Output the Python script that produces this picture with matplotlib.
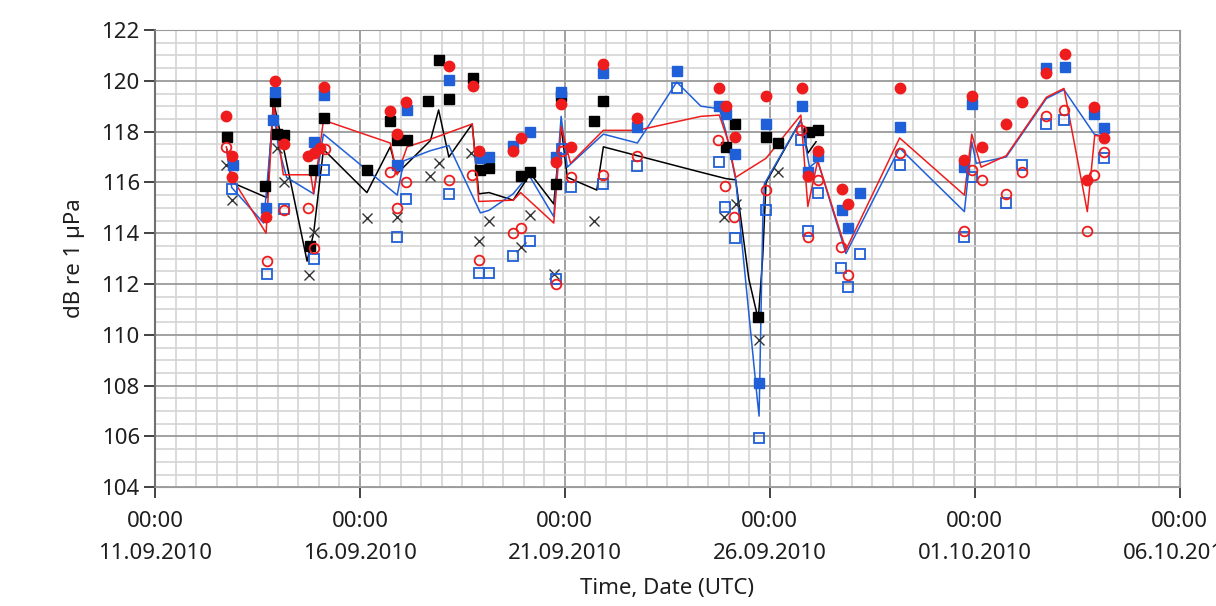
"""
Hydrophone sound level time series, 11.09.2010 - 06.10.2010 (LabVIEW style).
"""

from datetime import datetime

import matplotlib
matplotlib.use("Agg")
import matplotlib.dates as mdates
import matplotlib.pyplot as plt
import numpy as np
from matplotlib.ticker import FixedLocator, MultipleLocator

# ── Data (x = days after 11.09.2010 00:00 UTC, y = dB re 1 µPa) ──────────────

black_sq_t = [1.75, 2.69, 2.92, 2.97, 3.14, 3.77, 3.87, 4.13, 5.17, 5.74, 5.91,
              6.15, 6.66, 6.92, 7.17, 7.75, 7.94, 8.15, 8.92, 9.16, 9.78, 9.91,
              10.71, 10.92, 13.93, 14.16, 14.72, 14.91, 15.19, 15.97, 16.17]
black_sq_v = [117.8, 115.85, 119.2, 117.9, 117.85, 113.5, 116.5, 118.55, 116.5,
              118.4, 117.65, 117.65, 119.2, 120.8, 119.3, 120.1, 116.5, 116.55,
              116.25, 116.4, 115.95, 119.4, 118.4, 119.2, 117.4, 118.3, 110.7,
              117.8, 117.55, 118.0, 118.05]

black_x_t = [1.73, 1.87, 2.97, 3.14, 3.75, 3.87, 5.17, 5.91, 6.72, 6.92, 7.70,
             7.90, 8.15, 8.92, 9.16, 9.73, 10.71, 13.89, 14.17, 14.74, 15.19]
black_x_v = [116.7, 115.3, 117.35, 116.0, 112.35, 114.05, 114.6, 114.65, 116.25,
             116.75, 117.15, 113.7, 114.5, 113.45, 114.7, 112.4, 114.5, 114.65,
             115.15, 109.8, 116.4]

blue_sq_t = [1.91, 2.71, 2.89, 2.92, 3.89, 4.13, 5.91, 6.15, 7.17, 7.94, 8.15,
             8.74, 9.16, 9.78, 9.91, 10.92, 11.77, 12.73, 13.77, 13.93, 14.16,
             14.74, 14.91, 15.79, 15.93, 16.17, 16.76, 16.90, 17.20, 18.17,
             19.75, 19.93, 21.75, 22.20, 22.92, 23.16]
blue_sq_v = [116.7, 115.0, 118.45, 119.55, 117.6, 119.45, 116.7, 118.85, 120.05,
             116.95, 117.0, 117.45, 118.0, 117.0, 119.55, 120.3, 118.2, 120.4,
             119.0, 118.7, 117.1, 108.1, 118.3, 119.0, 116.4, 117.05, 114.9,
             114.2, 115.6, 118.2, 116.6, 119.1, 120.5, 120.55, 118.7, 118.15]

blue_os_t = [1.87, 2.73, 3.14, 3.89, 4.13, 5.91, 6.13, 7.17, 7.90, 8.15, 8.74,
             9.16, 9.78, 9.94, 10.14, 10.92, 11.77, 12.73, 13.77, 13.91, 14.16,
             14.74, 14.91, 15.76, 15.93, 16.17, 16.74, 16.90, 17.20, 18.17,
             19.75, 19.93, 20.77, 21.16, 21.75, 22.18, 23.16]
blue_os_v = [115.75, 112.4, 114.95, 113.0, 116.5, 113.85, 115.35, 115.55, 112.45,
             112.45, 113.1, 113.7, 112.2, 117.3, 115.8, 115.95, 116.65, 119.7,
             116.8, 115.05, 113.8, 105.95, 114.9, 117.65, 114.1, 115.6, 112.65,
             111.9, 113.2, 116.7, 113.85, 116.2, 115.2, 116.7, 118.3, 118.45,
             116.95]

red_c_t = [1.74, 1.87, 1.87, 2.71, 2.92, 3.14, 3.74, 3.87, 4.03, 4.13, 5.74,
           5.91, 6.13, 7.17, 7.75, 7.90, 8.74, 8.92, 9.78, 9.91, 10.14, 10.92,
           11.77, 13.77, 13.93, 14.16, 14.91, 15.79, 15.93, 16.17, 16.76, 16.90,
           18.17, 19.75, 19.93, 20.18, 20.77, 21.16, 21.75, 22.20, 22.75, 22.92,
           23.16]
red_c_v = [118.6, 117.05, 116.2, 114.65, 120.0, 117.5, 117.05, 117.15, 117.35,
           119.75, 118.8, 117.9, 119.15, 120.6, 119.8, 117.25, 117.25, 117.75,
           116.8, 119.1, 117.4, 120.65, 118.55, 119.7, 119.0, 117.8, 119.4, 119.7,
           116.25, 117.25, 115.75, 115.15, 119.7, 116.9, 119.4, 117.4, 118.3,
           119.15, 120.3, 121.05, 116.1, 118.95, 117.75]

red_oc_t = [1.74, 2.73, 3.14, 3.74, 3.89, 4.15, 5.74, 5.91, 6.13, 7.17, 7.74,
            7.90, 8.74, 8.92, 9.78, 9.94, 10.14, 10.92, 11.77, 13.73, 13.91,
            14.13, 14.91, 15.76, 15.93, 16.17, 16.74, 16.90, 18.17, 19.75, 19.93,
            20.18, 20.77, 21.16, 21.75, 22.18, 22.75, 22.92, 23.16]
red_oc_v = [117.4, 112.9, 114.9, 115.0, 113.4, 117.3, 116.4, 115.0, 116.0, 116.1,
            116.3, 112.95, 114.0, 114.2, 112.0, 117.25, 116.2, 116.3, 117.05,
            117.65, 115.85, 114.65, 115.7, 118.05, 113.85, 116.1, 113.45, 112.35,
            117.15, 114.1, 116.5, 116.1, 115.55, 116.4, 118.6, 118.85, 114.1,
            116.3, 117.2]

black_line_t = [1.75, 1.87, 2.73, 2.89, 3.13, 3.71, 3.87, 4.11, 5.17, 5.74, 5.91,
                6.72, 6.92, 7.17, 7.74, 7.90, 8.15, 8.74, 9.16, 9.73, 9.91, 10.06,
                10.78, 10.94, 13.32, 13.93, 14.17, 14.49, 14.72, 14.83, 14.91,
                15.76, 15.93, 16.13]
black_line_v = [117.3, 116.0, 115.4, 119.2, 117.4, 112.9, 114.0, 117.3, 115.6,
                117.4, 116.35, 117.65, 118.85, 117.0, 118.3, 115.55, 115.6, 115.3,
                116.35, 115.15, 118.2, 116.2, 115.7, 117.4, 116.4, 116.15, 116.1,
                112.2, 110.6, 113.1, 116.0, 118.45, 117.15, 117.6]

blue_line_t = [1.75, 1.87, 2.65, 2.89, 3.01, 3.21, 3.87, 4.11, 5.91, 6.07, 6.72,
               7.17, 7.94, 8.15, 8.74, 9.12, 9.73, 9.91, 10.06, 10.94, 11.77,
               12.73, 13.32, 13.77, 13.93, 14.17, 14.70, 14.74, 14.83, 14.87,
               15.76, 15.97, 16.17, 16.86, 18.17, 19.75, 19.93, 20.04, 20.77,
               21.75, 22.18, 22.92, 23.16]
blue_line_v = [117.3, 115.8, 114.4, 118.85, 117.4, 116.2, 115.55, 117.9, 115.5,
               116.85, 117.25, 117.45, 114.8, 114.9, 115.55, 116.3, 114.65, 118.6,
               116.6, 117.9, 117.55, 119.95, 119.0, 118.9, 118.0, 116.1, 107.4,
               106.8, 114.5, 115.95, 118.45, 116.6, 116.85, 113.2, 117.35, 114.85,
               117.6, 116.75, 117.0, 119.3, 119.65, 117.9, 117.8]

red_line_t = [1.74, 1.87, 2.71, 2.89, 3.13, 3.80, 3.87, 4.11, 5.74, 5.91, 6.15,
              6.72, 7.74, 7.90, 8.74, 8.92, 9.73, 9.91, 10.14, 10.94, 11.77,
              13.32, 13.77, 13.98, 14.17, 14.91, 15.76, 15.93, 16.17, 16.86,
              18.17, 19.75, 19.93, 20.16, 20.77, 21.75, 22.18, 22.75, 22.93, 23.16]
red_line_v = [117.4, 116.2, 114.0, 119.15, 116.3, 116.3, 115.55, 118.45, 117.55,
              116.3, 117.4, 117.7, 118.3, 115.25, 115.3, 115.6, 114.4, 118.2,
              116.75, 118.05, 118.05, 118.6, 118.65, 117.65, 116.2, 116.95, 118.65,
              115.05, 116.85, 113.35, 117.75, 115.5, 117.9, 116.6, 117.05, 119.35,
              119.7, 114.85, 117.85, 117.8]

START = mdates.date2num(datetime(2010, 9, 11))
SPAN_DAYS = 25

BLACK = "#000000"
BLUE = "#1f5fd8"
RED = "#ee1c1c"
TEXT = "#1e1e1e"


def t(days):
    return START + np.asarray(days, dtype=float)


# ── Figure ──────────────────────────────────────────────────────────────────

plt.rcParams["font.family"] = ["Noto Sans", "DejaVu Sans"]

fig = plt.figure(figsize=(12.16, 6.06), dpi=100)
ax = fig.add_axes([0.1275, 0.196, 0.8425, 0.7545])

# lines
ax.plot(t(black_line_t), black_line_v, color=BLACK, lw=1.1, zorder=3)
ax.plot(t(blue_line_t), blue_line_v, color=BLUE, lw=1.1, zorder=3)
ax.plot(t(red_line_t), red_line_v, color=RED, lw=1.1, zorder=3)

# markers
ms = 7
ax.plot(t(black_x_t), black_x_v, ls="none", marker="x", ms=ms, mew=1.0,
        color="#333333", zorder=4)
ax.plot(t(black_sq_t), black_sq_v, ls="none", marker="s", ms=ms, color=BLACK,
        zorder=4)
ax.plot(t(blue_os_t), blue_os_v, ls="none", marker="s", ms=ms, mfc="none",
        mec=BLUE, mew=1.3, zorder=5)
ax.plot(t(blue_sq_t), blue_sq_v, ls="none", marker="s", ms=ms, color=BLUE,
        zorder=5)
ax.plot(t(red_oc_t), red_oc_v, ls="none", marker="o", ms=ms, mfc="none",
        mec=RED, mew=1.3, zorder=6)
ax.plot(t(red_c_t), red_c_v, ls="none", marker="o", ms=ms + 0.5, color=RED,
        zorder=6)

# axes, grid
ax.set_xlim(START, START + SPAN_DAYS)
ax.set_ylim(104, 122)
ax.xaxis.set_major_locator(FixedLocator(START + np.arange(0, SPAN_DAYS + 1, 5)))
ax.xaxis.set_minor_locator(MultipleLocator(0.5))
ax.xaxis.set_major_formatter(mdates.DateFormatter("%H:%M\n%d.%m.%Y"))
ax.yaxis.set_major_locator(MultipleLocator(2))
ax.yaxis.set_minor_locator(MultipleLocator(0.5))

ax.grid(which="minor", color="#d4d4d4", lw=1.2, zorder=0)
ax.grid(which="major", color="#9a9a9a", lw=1.3, zorder=1)
ax.set_axisbelow(True)

for side in ("top", "right", "bottom"):
    ax.spines[side].set_color("#9a9a9a")
ax.spines["left"].set_color("#707070")
ax.spines["left"].set_linewidth(1.5)

ax.tick_params(axis="x", which="major", direction="out", length=8, width=1.3,
               color="#333333", pad=9, labelsize=16, labelcolor=TEXT)
ax.tick_params(axis="y", which="major", direction="out", length=8, width=1.3,
               color="#333333", pad=3, labelsize=16, labelcolor=TEXT)
ax.tick_params(which="minor", length=0)
for lab in ax.get_xticklabels():
    lab.set_linespacing(1.7)
    lab.set_clip_on(False)

ax.set_ylabel("dB re 1 µPa", fontsize=16, color=TEXT, labelpad=12)
ax.set_xlabel("Time, Date (UTC)", fontsize=16, color=TEXT, labelpad=10)

fig.savefig("out.png", dpi=100, facecolor="white")
plt.close(fig)
